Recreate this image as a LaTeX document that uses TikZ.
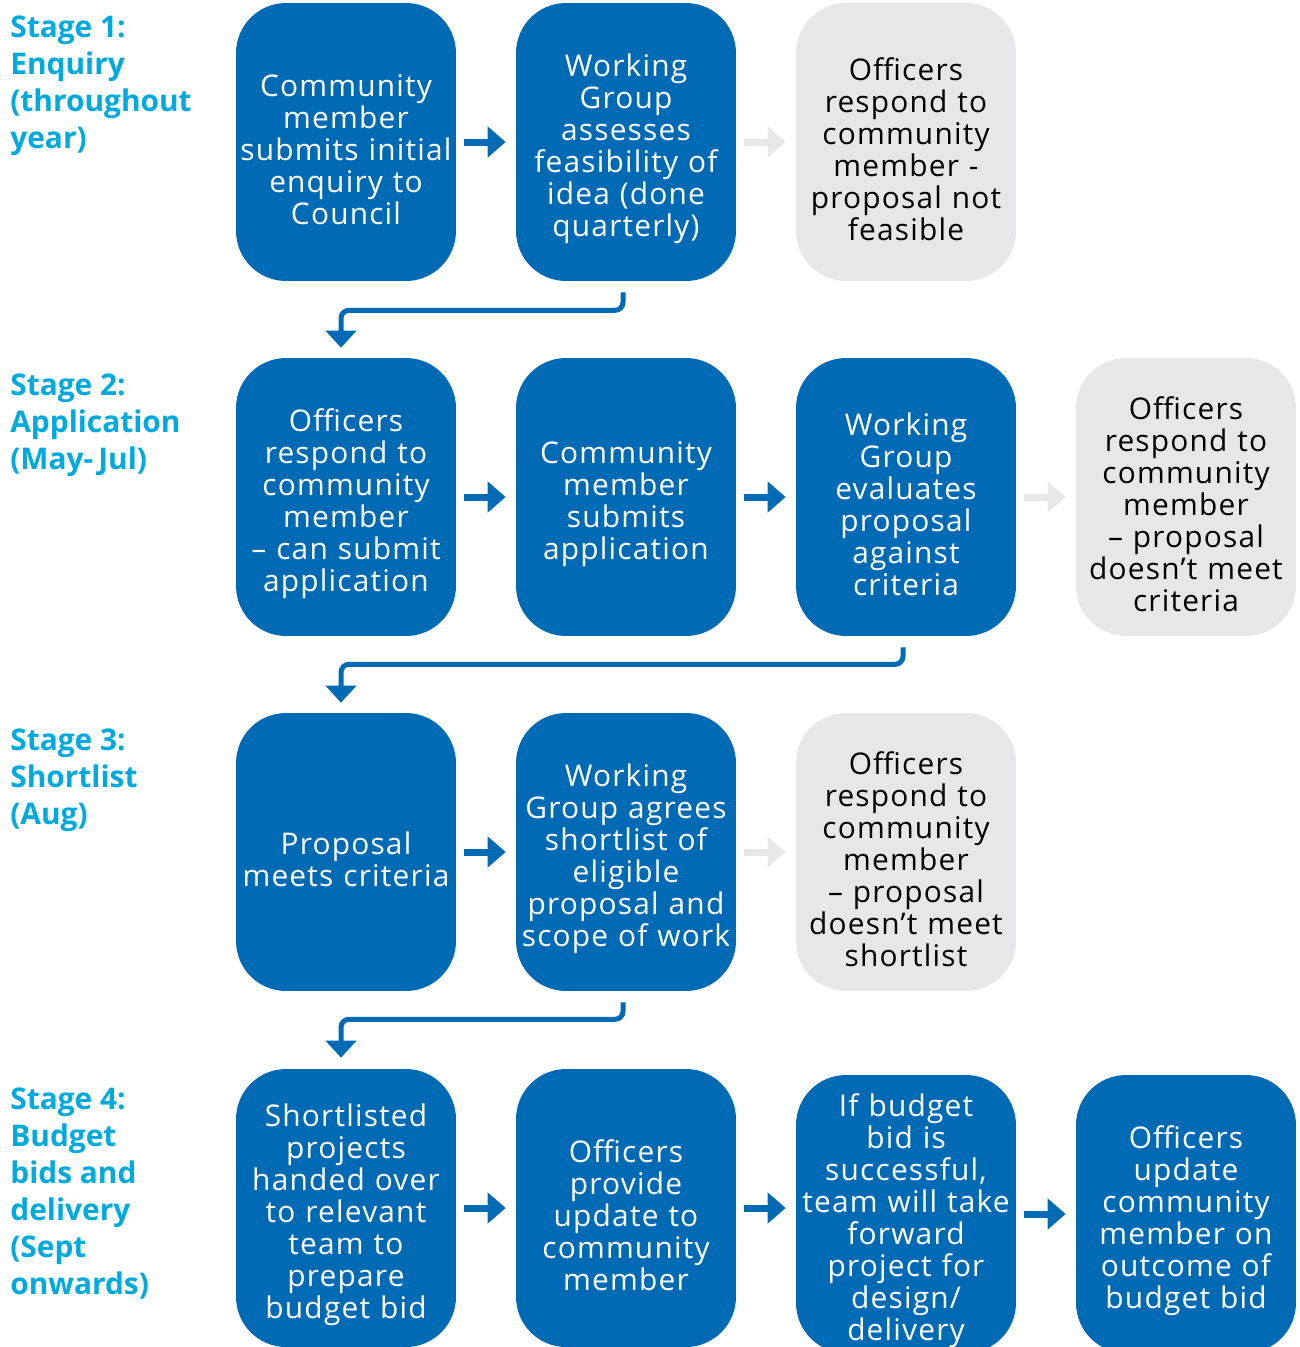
\documentclass[tikz,border=0pt]{standalone}
\usepackage{fontspec}
\setmainfont{Open Sans}
\newfontfamily\boxfont[LetterSpace=4]{Open Sans}
\usetikzlibrary{arrows.meta,positioning}
\definecolor{boxblue}{RGB}{0,106,180}
\definecolor{boxgrey}{RGB}{230,231,232}
\definecolor{stagecyan}{RGB}{0,170,222}
\tikzset{
    stepbox/.style={rounded corners=1cm,minimum width=4.36cm,minimum height=5.56cm,inner sep=0pt,text width=4.4cm,align=center,
      font=\boxfont\fontsize{17}{18.2}\selectfont,execute at begin node={\rule{0pt}{21pt}}},
    bluebox/.style={stepbox,fill=boxblue,text=white},
    greybox/.style={stepbox,fill=boxgrey,text=black},
    stagelabel/.style={anchor=north west,inner sep=0pt,text=stagecyan,align=left,font=\bfseries\fontsize{17}{21}\selectfont},
    nextarrow/.style={draw=boxblue,line width=0.14cm,-{Triangle[length=0.36cm,width=0.6cm]},shorten <=0.16cm,shorten >=0.2cm},
    noarrow/.style={nextarrow,draw=boxgrey},
    downarrow/.style={draw=boxblue,line width=0.1cm,rounded corners=0.16cm,-{Triangle[length=0.34cm,width=0.6cm]}}
}

\begin{document}
\begin{tikzpicture}[x=0.02cm,y=-0.02cm]
  \useasboundingbox (0,0) rectangle (1300,1347);

  % stage labels
  \node[stagelabel] (s1) at (10,16) {Stage 1:\\Enquiry\\(throughout\\year)};
  \node[stagelabel] (s2) at (10,374) {Stage 2:\\Application\\(May-\,Jul)};
  \node[stagelabel] (s3) at (10,729) {Stage 3:\\Shortlist\\(Aug)};
  \node[stagelabel] (s4) at (10,1088) {Stage 4:\\Budget\\bids and\\delivery\\(Sept\\onwards)};

  % stage 1
  \node[bluebox] (b11) at (346,142) {Community\\member\\submits initial\\enquiry to\\Council};
  \node[bluebox] (b12) at (626,142) {Working\\Group\\assesses\\feasibility of\\idea (done\\quarterly)};
  \node[greybox] (b13) at (906,142) {Officers\\respond to\\community\\member -\\proposal not\\feasible};

  % stage 2
  \node[bluebox] (b21) at (346,497) {Officers\\respond to\\community\\member\\– can submit\\application};
  \node[bluebox] (b22) at (626,497) {Community\\member\\submits\\application};
  \node[bluebox] (b23) at (906,497) {Working\\Group\\evaluates\\proposal\\against\\criteria};
  \node[greybox] (b24) at (1186,497) {Officers\\respond to\\community\\member\\– proposal\\doesn’t meet\\criteria};

  % stage 3
  \node[bluebox] (b31) at (346,852) {Proposal\\meets criteria};
  \node[bluebox] (b32) at (626,852) {Working\\Group agrees\\shortlist of\\eligible\\proposal and\\scope of work};
  \node[greybox] (b33) at (906,852) {Officers\\respond to\\community\\member\\– proposal\\doesn’t meet\\shortlist};

  % stage 4
  \node[bluebox] (b41) at (346,1208) {Shortlisted\\projects\\handed over\\to relevant\\team to\\prepare\\budget bid};
  \node[bluebox] (b42) at (626,1208) {Officers\\provide\\update to\\community\\member};
  \node[bluebox] (b43) at (906,1214) {If budget\\bid is\\successful,\\team will take\\forward\\project for\\design/\\delivery};
  \node[bluebox] (b44) at (1186,1214) {Officers\\update\\community\\member on\\outcome of\\budget bid};

  % arrows along each row
  \foreach \a/\b in {b11/b12,b21/b22,b22/b23,b31/b32,b41/b42,b42/b43,b43/b44}{
    \draw[nextarrow] (\a.east) -- (\a.east -| \b.west);
  }
  \foreach \a/\b in {b12/b13,b23/b24,b32/b33}{
    \draw[noarrow] (\a.east) -- (\a.east -| \b.west);
  }

  % arrows down to the next stage
  \draw[downarrow] ([xshift=-0.06cm,yshift=-0.22cm]b12.south) -- ++(0,18) -| ([xshift=-0.1cm,yshift=0.2cm]b21.north);
  \draw[downarrow] ([xshift=-0.06cm,yshift=-0.22cm]b23.south) -- ++(0,17) -| ([xshift=-0.1cm,yshift=0.2cm]b31.north);
  \draw[downarrow] ([xshift=-0.06cm,yshift=-0.22cm]b32.south) -- ++(0,17) -| ([xshift=-0.1cm,yshift=0.22cm]b41.north);
\end{tikzpicture}
\end{document}
